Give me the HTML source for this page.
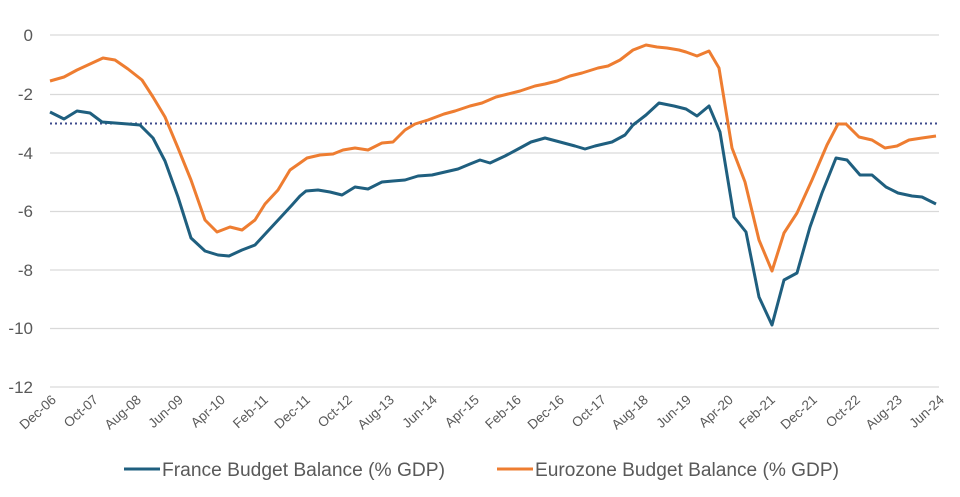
<!DOCTYPE html>
<html><head><meta charset="utf-8"><style>
html,body{margin:0;padding:0;background:#fff;}
svg{display:block;font-family:"Liberation Sans",sans-serif;}
</style></head><body>
<svg width="960" height="497" viewBox="0 0 960 497" xmlns="http://www.w3.org/2000/svg">
<g stroke="#d9d9d9" stroke-width="1.3">
<line x1="50" y1="35" x2="939" y2="35"/>
<line x1="50" y1="94.5" x2="939" y2="94.5"/>
<line x1="50" y1="153" x2="939" y2="153"/>
<line x1="50" y1="211.5" x2="939" y2="211.5"/>
<line x1="50" y1="270" x2="939" y2="270"/>
<line x1="50" y1="328.5" x2="939" y2="328.5"/>
<line x1="50" y1="387" x2="939" y2="387"/>
</g>
<g fill="#595959" font-size="17" text-anchor="end">
<text x="33" y="41">0</text>
<text x="33" y="100">-2</text>
<text x="33" y="159">-4</text>
<text x="33" y="217">-6</text>
<text x="33" y="276">-8</text>
<text x="33" y="334">-10</text>
<text x="33" y="393">-12</text>
</g>
<line x1="50" y1="123.5" x2="939" y2="123.5" stroke="#3c4a8c" stroke-width="2" stroke-dasharray="2,3"/>
<polyline fill="none" stroke="#ee7d31" stroke-width="3" stroke-linejoin="round" points="50,81 64,77 77,70 90,64 103,58 115,60 128,69 142,80 153,97 165,117 178,148 191,180 205,220 217,232 230,227 242,230 255,220 265,204 278,190 290,170 300,163 307,158 320,155 333,154 343,150 355,148 368,150 382,143 393,142 405,130 415,124 428,120 444,114 455,111 470,106 482,103 496,97 508,94 520,91 535,86 545,84 557,81 570,76 582,73 598,68 608,66 620,60 633,50 646,45 657,47 667,48 679,50 686,52 697,56 709,51 719,68 732,148 745,182 759,240 772,271 784,233 797,213 812,180 827,145 838,124 846,124 859,137 872,140 885,148 897,146 909,140 922,138 936,136"/>
<polyline fill="none" stroke="#1f5f7f" stroke-width="3" stroke-linejoin="round" points="50,112 64,119 77,111 90,113 102,122 115,123 128,124 140,125 153,138 165,161 178,197 191,238 205,251 218,255 229,256 242,250 255,245 267,232 280,218 292,205 300,196 306,191 318,190 330,192 342,195 355,187 368,189 382,182 393,181 405,180 418,176 432,175 445,172 458,169 470,164 480,160 490,163 505,156 520,148 531,142 545,138 560,142 575,146 585,149 595,146 612,142 625,135 633,125 646,115 659,103 674,106 686,109 697,116 709,106 720,132 734,217 746,232 759,297 772,325 784,280 797,273 810,227 822,193 836,158 847,160 860,175 872,175 886,187 898,193 912,196 922,197 936,204"/>
<g fill="#595959" font-size="13.5">
<text transform="translate(57,401) rotate(-42)" text-anchor="end">Dec-06</text>
<text transform="translate(99,401) rotate(-42)" text-anchor="end">Oct-07</text>
<text transform="translate(142,401) rotate(-42)" text-anchor="end">Aug-08</text>
<text transform="translate(184,401) rotate(-42)" text-anchor="end">Jun-09</text>
<text transform="translate(226,401) rotate(-42)" text-anchor="end">Apr-10</text>
<text transform="translate(269,401) rotate(-42)" text-anchor="end">Feb-11</text>
<text transform="translate(311,401) rotate(-42)" text-anchor="end">Dec-11</text>
<text transform="translate(353,401) rotate(-42)" text-anchor="end">Oct-12</text>
<text transform="translate(395,401) rotate(-42)" text-anchor="end">Aug-13</text>
<text transform="translate(438,401) rotate(-42)" text-anchor="end">Jun-14</text>
<text transform="translate(480,401) rotate(-42)" text-anchor="end">Apr-15</text>
<text transform="translate(522,401) rotate(-42)" text-anchor="end">Feb-16</text>
<text transform="translate(565,401) rotate(-42)" text-anchor="end">Dec-16</text>
<text transform="translate(607,401) rotate(-42)" text-anchor="end">Oct-17</text>
<text transform="translate(649,401) rotate(-42)" text-anchor="end">Aug-18</text>
<text transform="translate(692,401) rotate(-42)" text-anchor="end">Jun-19</text>
<text transform="translate(734,401) rotate(-42)" text-anchor="end">Apr-20</text>
<text transform="translate(776,401) rotate(-42)" text-anchor="end">Feb-21</text>
<text transform="translate(818,401) rotate(-42)" text-anchor="end">Dec-21</text>
<text transform="translate(861,401) rotate(-42)" text-anchor="end">Oct-22</text>
<text transform="translate(903,401) rotate(-42)" text-anchor="end">Aug-23</text>
<text transform="translate(945,401) rotate(-42)" text-anchor="end">Jun-24</text>
</g>
<line x1="124" y1="469" x2="160" y2="469" stroke="#1f5f7f" stroke-width="3"/>
<text x="162" y="476" fill="#595959" font-size="19" textLength="283" lengthAdjust="spacingAndGlyphs">France Budget Balance (% GDP)</text>
<line x1="497" y1="469" x2="533" y2="469" stroke="#ee7d31" stroke-width="3"/>
<text x="535" y="476" fill="#595959" font-size="19" textLength="304" lengthAdjust="spacingAndGlyphs">Eurozone Budget Balance (% GDP)</text>
</svg>
</body></html>
